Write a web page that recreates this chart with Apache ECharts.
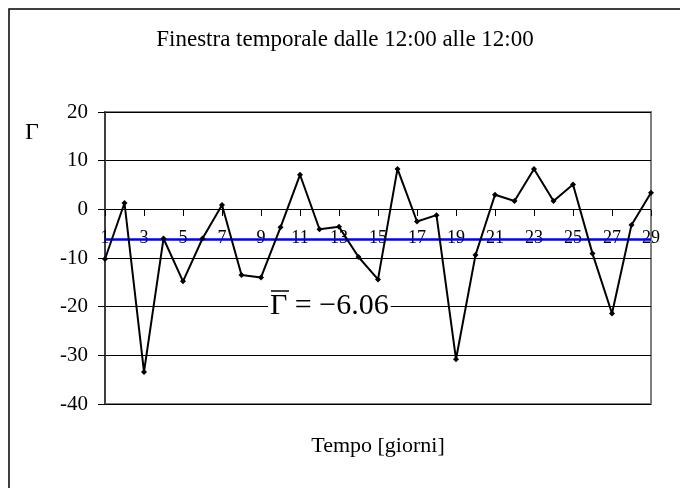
<!DOCTYPE html>
<html>
<head>
<meta charset="utf-8">
<script src="https://cdn.jsdelivr.net/npm/echarts@6/dist/echarts.min.js"></script>
<style>
html,body{margin:0;padding:0;background:#fff;}
#chart{width:680px;height:488px;}
</style>
</head>
<body>
<div id="chart"></div>
<script>
var days = ['1','2','3','4','5','6','7','8','9','10','11','12','13','14','15','16','17','18','19','20','21','22','23','24','25','26','27','28','29'];
var gamma = [-10.2, 1.3, -33.4, -6.0, -14.8, -6.0, 0.9, -13.5, -14.0, -3.7, 7.1, -4.1, -3.6, -9.8, -14.4, 8.3, -2.5, -1.2, -30.8, -9.4, 3.0, 1.7, 8.3, 1.7, 5.1, -9.1, -21.4, -3.2, 3.4];
var meanGamma = -6.06;
var titleText = 'Finestra temporale dalle 12:00 alle 12:00';
var xName = 'Tempo [giorni]';
var yName = '\u0393';
var meanLabel = '\u0393 = \u22126.06';

var FONT = 'Liberation Serif';
var chart = echarts.init(document.getElementById('chart'));
chart.setOption({
  animation: false,
  backgroundColor: '#fff',
  grid: {left: 105, right: 29, top: 112, bottom: 84, show: true, borderColor: '#808080', borderWidth: 2, backgroundColor: 'transparent'},
  xAxis: {
    type: 'category', data: days, boundaryGap: false,
    position: 'bottom', offset: -194,
    axisLine: {show: false, onZero: false, lineStyle: {color: '#000', width: 1}},
    axisTick: {show: true, interval: 1, length: 6, lineStyle: {color: '#000'}},
    axisLabel: {interval: 1, margin: 19, fontFamily: FONT, fontSize: 18, color: '#000'},
    splitLine: {show: false}
  },
  yAxis: {
    type: 'value', min: -40, max: 20, interval: 10,
    axisLine: {show: true, lineStyle: {color: '#404040', width: 2}},
    axisTick: {show: true, length: 7, lineStyle: {color: '#000'}},
    axisLabel: {margin: 17, fontFamily: FONT, fontSize: 21, color: '#000'},
    splitLine: {show: true, lineStyle: {color: '#000', width: 1}}
  },
  series: [{
    type: 'line', data: gamma,
    symbol: 'diamond', symbolSize: 6,
    lineStyle: {color: '#000', width: 2},
    itemStyle: {color: '#000'},
    z: 5,
    markLine: {
      silent: true, symbol: 'none', label: {show: false},
      lineStyle: {color: '#0000ff', width: 2.5, type: 'solid'},
      data: [{yAxis: meanGamma}]
    }
  }],
  graphic: [
    {type: 'rect', shape: {x: 9, y: 9, width: 700, height: 500}, style: {fill: 'none', stroke: '#000', lineWidth: 1.5}, z: 0},
    {type: 'text', x: 345, y: 40, style: {text: titleText, font: '23px "Liberation Serif"', fill: '#000', align: 'center', verticalAlign: 'middle'}},
    {type: 'text', x: 32, y: 133, style: {text: yName, font: '24px "Liberation Serif"', fill: '#000', align: 'center', verticalAlign: 'middle'}},
    {type: 'text', x: 268, y: 306, z: 10, style: {text: meanLabel, font: '30px "Liberation Serif"', fill: '#000', backgroundColor: '#fff', padding: [0, 2, 0, 2], verticalAlign: 'middle'}},
    {type: 'line', z: 11, shape: {x1: 271, y1: 291, x2: 289, y2: 291}, style: {stroke: '#000', lineWidth: 1.5}},
    {type: 'text', x: 378, y: 446, style: {text: xName, font: '22px "Liberation Serif"', fill: '#000', align: 'center', verticalAlign: 'middle'}}
  ]
});
</script>
</body>
</html>
